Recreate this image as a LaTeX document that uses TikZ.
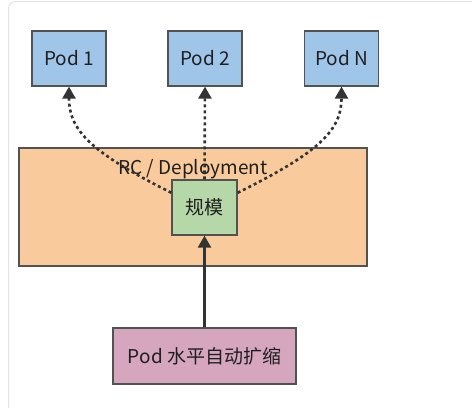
\documentclass[tikz,border=0pt]{standalone}
\usepackage{fontspec}
\setmainfont{Noto Sans CJK SC}
\usetikzlibrary{arrows.meta}

\definecolor{podfill}{HTML}{9FC5E8}
\definecolor{rcfill}{HTML}{F9CB9C}
\definecolor{scalefill}{HTML}{B6D7A8}
\definecolor{hpafill}{HTML}{D5A6BD}
\definecolor{edge}{HTML}{333333}
\definecolor{frame}{HTML}{E3E3E3}

\begin{document}
\begin{tikzpicture}[x=1bp,y=-1bp,
		box/.style={draw=edge!85,line width=1.3bp,inner sep=0pt,text=edge!60!black,font=\fontsize{19bp}{22bp}\selectfont},
		pod/.style={box,fill=podfill,minimum width=74bp,minimum height=55bp},
		link/.style={draw=edge,line width=2.6bp,-{Triangle[width=13bp,length=12bp]}},
		dotlink/.style={link,dash pattern=on 3bp off 3bp}]
		\useasboundingbox (0,0) rectangle (472,407);
		\draw[frame,line width=1bp,rounded corners=7bp] (8.5,1.5) rectangle (490,430);
		% outer box
		\node[box,fill=rcfill,minimum width=348bp,minimum height=118bp] (rc) at (193,207) {};
		\node[inner sep=0pt,anchor=base,text=edge!60!black,font=\fontsize{19bp}{22bp}\selectfont] (rclabel) at (193,174) {RC / Deployment};
		% nodes
		\node[box,fill=scalefill,minimum width=65bp,minimum height=55bp] (scale) at (204.5,207.5) {规模};
		\node[pod] (p1) at (69,58.5) {Pod 1};
		\node[pod] (p2) at (205,58.5) {Pod 2};
		\node[pod] (pn) at (341.5,58.5) {Pod N};
		\node[box,fill=hpafill,minimum width=183bp,minimum height=56bp] (hpa) at (204.5,356) {Pod 水平自动扩缩};
		% links
		\draw[link] (hpa.north) -- (scale.south);
		\draw[dotlink] (scale.north) -- (p2.south);
		\draw[dotlink] (scale.156) .. controls (90,152) and (69,130) .. (p1.south);
		\draw[dotlink] (scale.24) .. controls (320,152) and (341.5,130) .. (pn.south);
	\end{tikzpicture}
\end{document}
